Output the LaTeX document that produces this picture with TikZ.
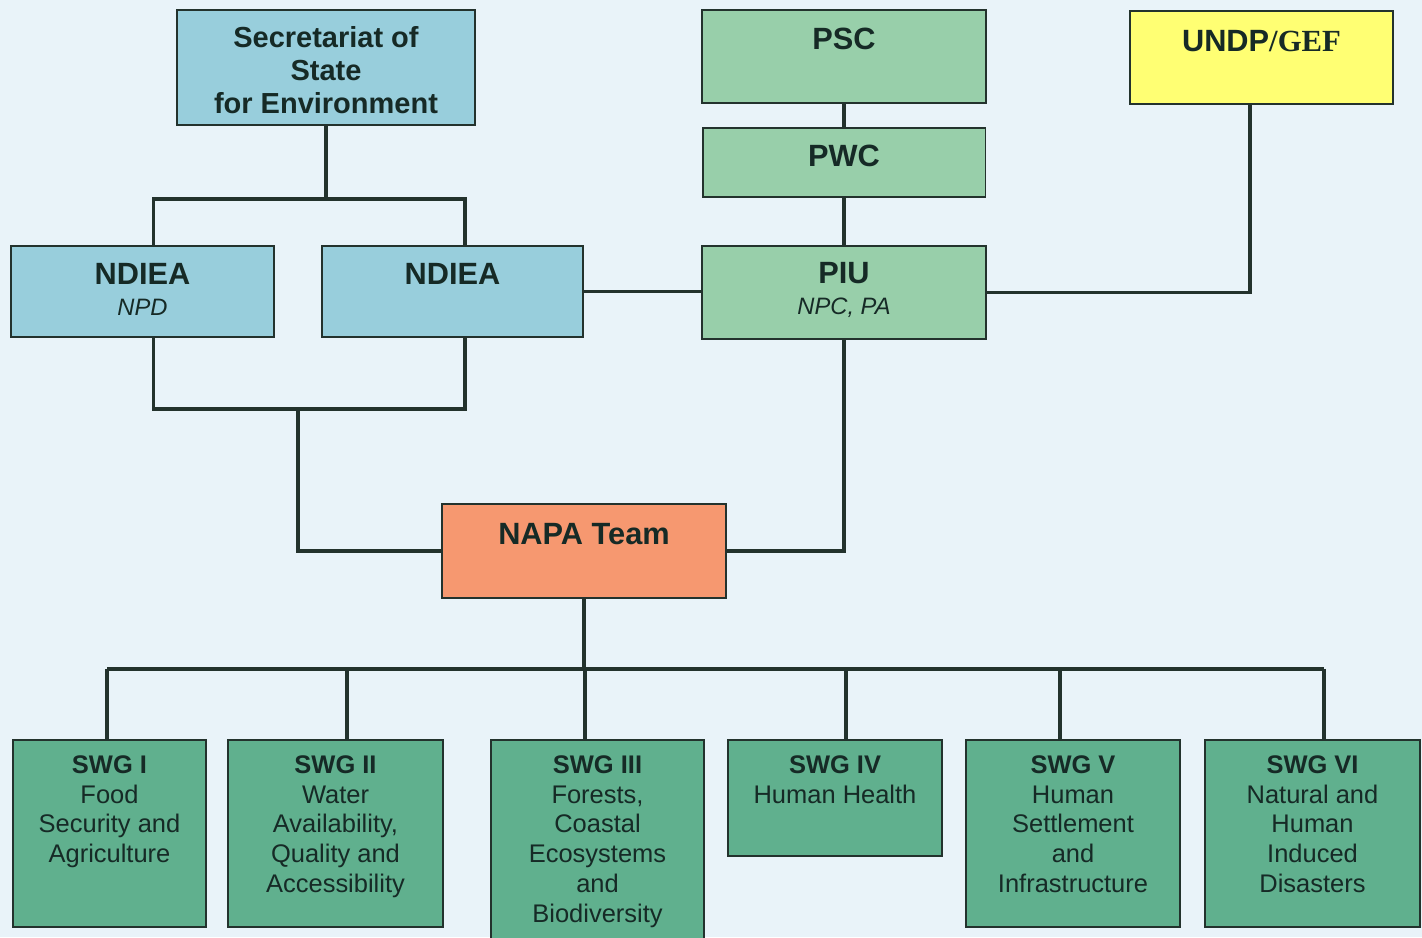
\documentclass[tikz,border=0pt]{standalone}
\usepackage{fontspec}
\setmainfont{Liberation Sans}
\newfontfamily\timesfont{Liberation Serif}
\usetikzlibrary{positioning}
\definecolor{bgblue}{RGB}{233,243,249}
\definecolor{stateblue}{RGB}{152,206,220}
\definecolor{pgreen}{RGB}{152,207,170}
\definecolor{swggreen}{RGB}{96,176,142}
\definecolor{napared}{RGB}{246,152,112}
\definecolor{undpyellow}{RGB}{255,255,115}
\definecolor{edge}{RGB}{35,50,45}
\definecolor{ink}{RGB}{22,42,38}

\begin{document}
\begin{tikzpicture}[x=0.02cm, y=-0.02cm,
	box/.style={draw=edge, line width=1.1pt, inner sep=0pt},
	conn/.style={draw=edge, line width=1.9pt},
	hd/.style={inner sep=0pt, align=center, text=ink, font=\fontsize{17.5}{17.6}\selectfont\bfseries},
	swg/.style={inner sep=0pt, align=center, text=ink, font=\fontsize{14.5}{17}\selectfont},
	node distance=0.36cm]
	\fill[bgblue] (0,0) rectangle (1422,937);
	\useasboundingbox (0,0) rectangle (1422,937);
	% upper boxes
	\node[box, fill=stateblue, minimum width=5.96cm, minimum height=2.3cm] (sse) at (326,67.5) {};
	\node[hd, font=\fontsize{16.5}{18.8}\selectfont\bfseries, below=0.35cm of sse.north] (sse-t) {Secretariat of\\State\\for Environment};
	\node[box, fill=stateblue, minimum width=5.26cm, minimum height=1.82cm] (ndA) at (142.5,291.5) {};
	\node[hd, below=of ndA.north] (ndA-t) {NDIEA\\{\fontsize{13.5}{16}\selectfont\mdseries\itshape NPD}};
	\node[box, fill=stateblue, minimum width=5.22cm, minimum height=1.82cm] (ndB) at (452.5,291.5) {};
	\node[hd, below=of ndB.north] (ndB-t) {NDIEA};
	\node[box, fill=pgreen, minimum width=5.68cm, minimum height=1.86cm] (psc) at (844,56.5) {};
	\node[hd, below=0.38cm of psc.north] (psc-t) {PSC};
	\node[box, fill=pgreen, minimum width=5.66cm, minimum height=1.38cm] (pwc) at (844,162.5) {};
	\node[hd, below=of pwc.north] (pwc-t) {PWC};
	\node[box, fill=pgreen, minimum width=5.68cm, minimum height=1.86cm] (piu) at (844,292.5) {};
	\node[hd, below=0.34cm of piu.north] (piu-t) {PIU\\{\fontsize{13.5}{16}\selectfont\mdseries\itshape NPC, PA}};
	\node[box, fill=undpyellow, minimum width=5.26cm, minimum height=1.86cm] (undp) at (1261.5,57.5) {};
	\node[hd, below=0.4cm of undp.north] (undp-t) {UNDP{\timesfont/GEF}};
	\node[box, fill=napared, minimum width=5.68cm, minimum height=1.88cm] (napa) at (584,551) {};
	\node[hd, below=0.4cm of napa.north] (napa-t) {NAPA Team};
	% working groups
	\node[box, fill=swggreen, minimum width=3.86cm, minimum height=3.74cm] (s1) at (109.5,833.5) {};
	\node[box, fill=swggreen, minimum width=4.3cm, minimum height=3.74cm] (s2) at (335.5,833.5) {};
	\node[box, fill=swggreen, minimum width=4.26cm, minimum height=4.3cm] (s3) at (597.5,847.5) {};
	\node[box, fill=swggreen, minimum width=4.28cm, minimum height=2.32cm] (s4) at (835,798) {};
	\node[box, fill=swggreen, minimum width=4.28cm, minimum height=3.74cm] (s5) at (1073,833.5) {};
	\node[box, fill=swggreen, minimum width=4.3cm, minimum height=3.74cm] (s6) at (1312.5,833.5) {};
	\node[swg, below=0.32cm of s1.north] (s1-t) {\textbf{SWG I}\\Food\\Security and\\Agriculture};
	\node[swg, below=0.32cm of s2.north] (s2-t) {\textbf{SWG II}\\Water\\Availability,\\Quality and\\Accessibility};
	\node[swg, below=0.32cm of s3.north] (s3-t) {\textbf{SWG III}\\Forests,\\Coastal\\Ecosystems\\and\\Biodiversity};
	\node[swg, below=0.32cm of s4.north] (s4-t) {\textbf{SWG IV}\\Human Health};
	\node[swg, below=0.32cm of s5.north] (s5-t) {\textbf{SWG V}\\Human\\Settlement\\and\\Infrastructure};
	\node[swg, below=0.32cm of s6.north] (s6-t) {\textbf{SWG VI}\\Natural and\\Human\\Induced\\Disasters};
	% connectors
	\coordinate (ndbar) at (298,409);
	\draw[conn] (sse.south) -- ++(0,73) coordinate (ssebar);
	\draw[conn] ([xshift=0.22cm]ndA.north) |- (ssebar) -| ([xshift=0.25cm]ndB.north);
	\draw[conn] ([xshift=0.22cm]ndA.south) |- (ndbar) -| ([xshift=0.25cm]ndB.south);
	\draw[conn] (napa.west) -| (ndbar);
	\draw[conn] (ndB.east) -- (ndB.east -| piu.west);
	\draw[conn] (psc.south) -- (pwc.north);
	\draw[conn] (pwc.south) -- (piu.north);
	\draw[conn] (piu.east) -| ([xshift=-0.23cm]undp.south);
	\draw[conn] (piu.south) |- (napa.east);
	\draw[conn] (napa.south) -- ++(0,70) coordinate (bus);
	\foreach \n/\dx in {s1/-0.05, s2/0.23, s3/-0.25, s4/0.22, s5/-0.26, s6/0.23}
		\coordinate (d\n) at ([xshift=\dx cm]\n.north);
	\draw[conn] (ds1 |- bus) -- (ds6 |- bus);
	\foreach \n in {s1,s2,s3,s4,s5,s6}
		\draw[conn] (d\n |- bus) -- (d\n);
\end{tikzpicture}
\end{document}
